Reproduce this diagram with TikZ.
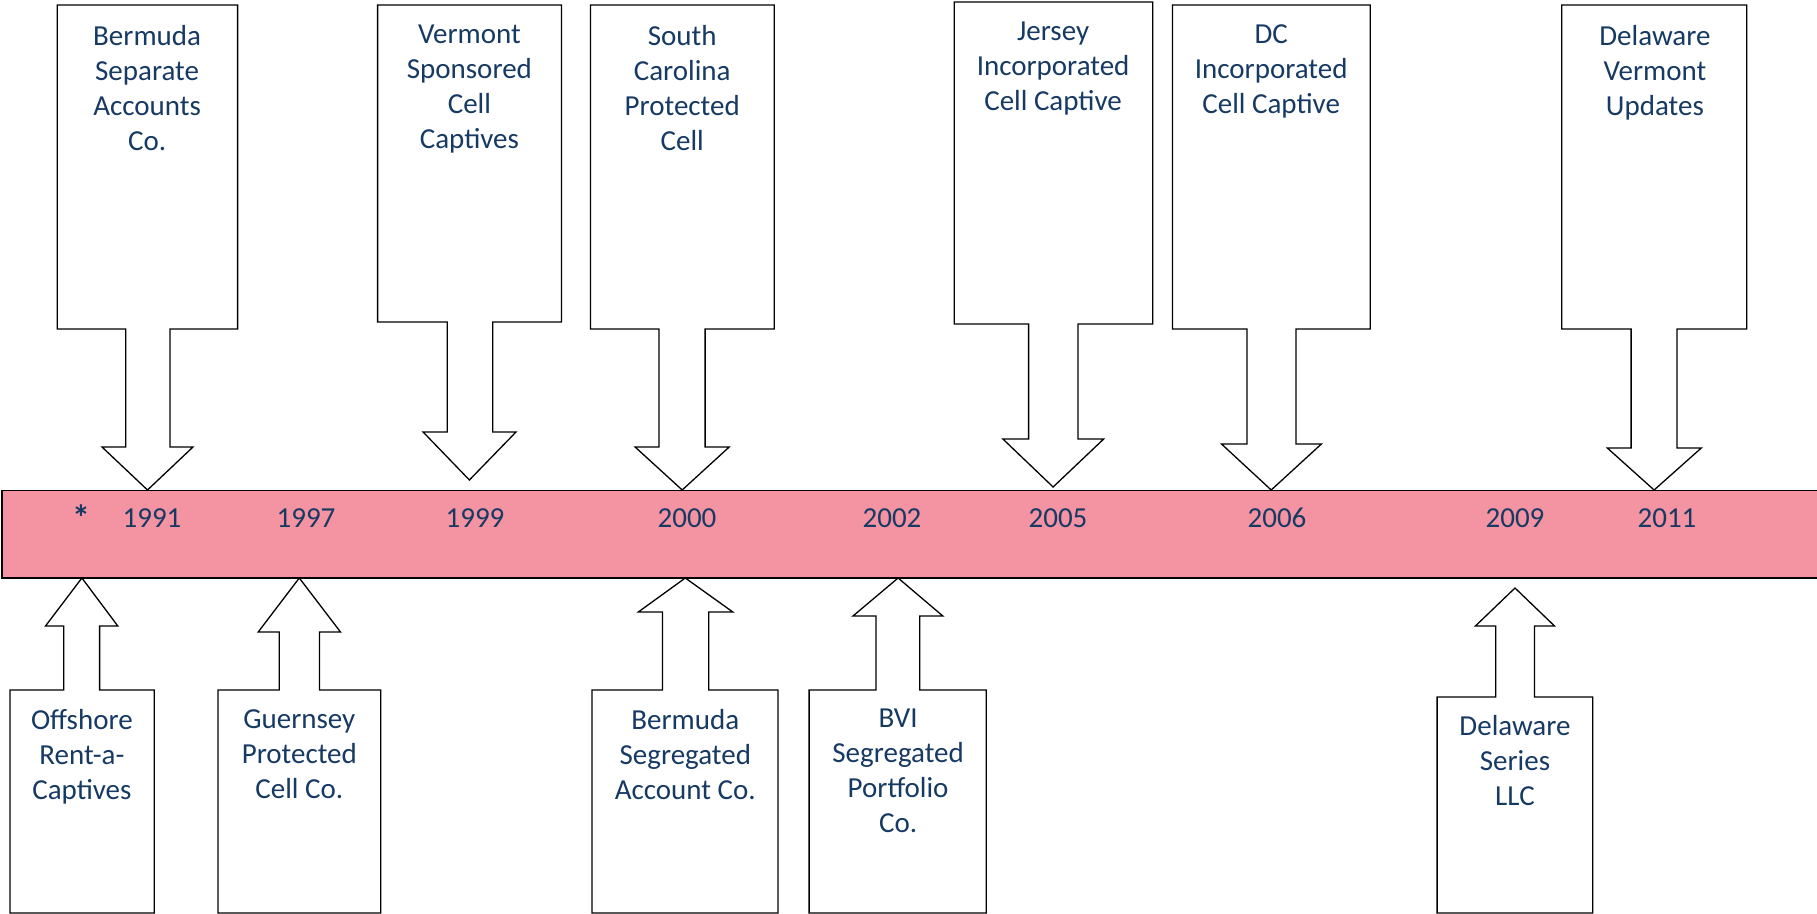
\documentclass[tikz,border=0pt]{standalone}
\usepackage{fontspec}
\setmainfont{Carlito}
\definecolor{txtblue}{RGB}{23,58,100}
\definecolor{barpink}{RGB}{244,147,161}
\tikzset{
  callout/.style={draw=black, fill=white, line width=0.65pt, line join=miter},
  lbl/.style={anchor=north, inner sep=0pt, align=center, text=txtblue,
    font=\fontsize{14.5pt}{17.5pt}\selectfont, execute at begin node=\strut},
  yr/.style={anchor=base, inner sep=0pt, text=txtblue, font=\fontsize{14.5pt}{17.5pt}\selectfont},
  bar/.style={draw=black, fill=barpink, line width=0.9pt}
}
\begin{document}
\begin{tikzpicture}[x=0.5pt, y=-0.5pt]
\useasboundingbox (0,0) rectangle (1817,914);
% timeline bar
\draw[bar] (2,490.5) rectangle (1840,578);
\node[yr, font=\fontsize{18pt}{20pt}\selectfont\bfseries] (star) at (81,531) {*};
\node[yr] (y1991) at (152,528) {1991};
\node[yr] (y1997) at (306,528) {1997};
\node[yr] (y1999) at (475,528) {1999};
\node[yr] (y2000) at (687,528) {2000};
\node[yr] (y2002) at (892,528) {2002};
\node[yr] (y2005) at (1058,528) {2005};
\node[yr] (y2006) at (1277,528) {2006};
\node[yr] (y2009) at (1515,528) {2009};
\node[yr] (y2011) at (1667,528) {2011};
% down callouts (above the bar)
\foreach \n/\xl/\xr/\yt/\yb/\sl/\sr/\hy/\hl/\hr/\px/\py/\tx/\by/\txt in {
  bsa/57.3/237.6/5/329/125.7/170/447/102/193/147.5/490/147.1/43/{Bermuda\\Separate\\Accounts\\Co.},
  vsc/377.6/561.5/5/322/447.2/492.7/432/423.1/516/469.4/480/469.4/43/{Vermont\\Sponsored\\Cell\\Captives},
  scpc/590.4/774.3/5/329/658.9/705.1/447/635.1/729.2/682.2/490/682.2/43/{South\\Carolina\\Protected\\Cell},
  jicc/954.2/1152.7/2/324/1028.6/1078/439/1002.9/1103.7/1053.1/487/1053.1/40/{Jersey\\Incorporated\\Cell Captive},
  dcicc/1172.5/1370.3/5/329/1247/1295.9/444/1221.5/1321.4/1271.2/490/1271.2/43/{DC\\Incorporated\\Cell Captive},
  dvu/1561.8/1746.8/5/329/1631.1/1677/448/1607.3/1701.3/1654.1/490/1654.9/43/{Delaware\\Vermont\\Updates}}
{
  \coordinate (\n-tip) at (\px,\py);
  \draw[callout] (\xl,\yt) -- (\xr,\yt) -- (\xr,\yb) -- (\sr,\yb) -- (\sr,\hy) -- (\hr,\hy)
    -- (\n-tip) -- (\hl,\hy) -- (\sl,\hy) -- (\sl,\yb) -- (\xl,\yb) -- cycle;
  \node[lbl] (\n) at (\tx,{\by-18.5}) {\txt};
}
% up callouts (below the bar)
\foreach \n/\xl/\xr/\yt/\yb/\sl/\sr/\hy/\hl/\hr/\px/\py/\tx/\by/\txt in {
  orc/9.9/154.2/690/913/63.7/99.6/626/45.5/117.8/81.9/578/81.9/727/{Offshore\\Rent-a-\\Captives},
  gpcc/217.9/380.8/690/913/279.2/319.5/632/258.2/340.5/299.3/578/299.3/728/{Guernsey\\Protected\\Cell Co.},
  bsac/592/777.9/690/913/662.4/708.7/612/638.3/732.8/685.3/578/685.3/727/{Bermuda\\Segregated\\Account Co.},
  bvi/809.1/986.2/690/913/875.9/919.8/616/853/942.8/898.1/578/898.1/727/{BVI\\Segregated\\Portfolio\\Co.},
  dsl/1437.1/1592.8/697/913/1495.8/1534.5/626/1475.4/1554.5/1515/588/1515/733/{Delaware\\Series\\LLC}}
{
  \coordinate (\n-tip) at (\px,\py);
  \draw[callout] (\xl,\yb) -- (\xl,\yt) -- (\sl,\yt) -- (\sl,\hy) -- (\hl,\hy) -- (\n-tip)
    -- (\hr,\hy) -- (\sr,\hy) -- (\sr,\yt) -- (\xr,\yt) -- (\xr,\yb) -- cycle;
  \node[lbl] (\n) at (\tx,{\by-18.5}) {\txt};
}
\end{tikzpicture}
\end{document}
